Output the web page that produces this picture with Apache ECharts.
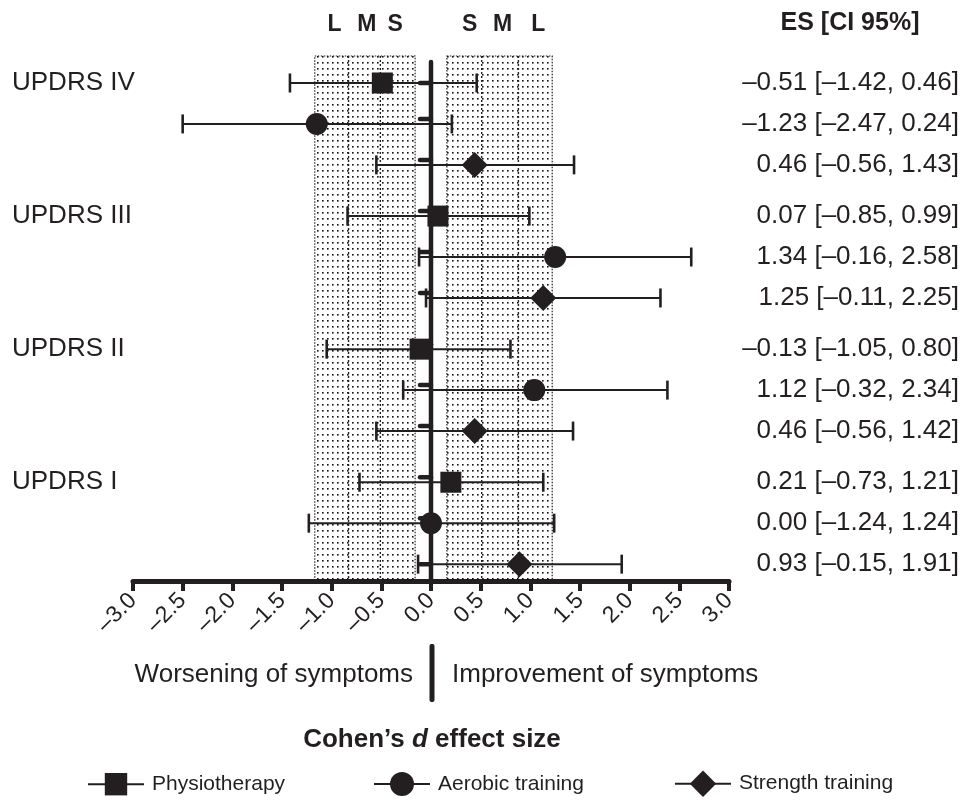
<!DOCTYPE html>
<html><head><meta charset="utf-8">
<script src="https://cdn.jsdelivr.net/npm/echarts@6/dist/echarts.min.js"></script>
<style>html,body{margin:0;padding:0;background:#fff}#c{width:962px;height:810px}</style>
</head><body><div id="c"></div>
<script>
// ---- data ----
const groups = ['UPDRS IV', 'UPDRS III', 'UPDRS II', 'UPDRS I'];
const interventions = ['Physiotherapy', 'Aerobic training', 'Strength training'];
// per group, in order UPDRS IV, III, II, I
const physioES  = [-0.49, 0.07, -0.11, 0.20];
const physioLo  = [-1.42, -0.84, -1.05, -0.72];
const physioHi  = [0.46, 0.99, 0.80, 1.13];
const aerobicES = [-1.15, 1.25, 1.04, 0.00];
const aerobicLo = [-2.50, -0.12, -0.28, -1.23];
const aerobicHi = [0.21, 2.62, 2.38, 1.24];
const strengthES = [0.44, 1.13, 0.44, 0.89];
const strengthLo = [-0.55, -0.05, -0.55, -0.13];
const strengthHi = [1.44, 2.31, 1.43, 1.92];
const esLabels = [
  '–0.51 [–1.42, 0.46]', '–1.23 [–2.47, 0.24]', '0.46 [–0.56, 1.43]',
  '0.07 [–0.85, 0.99]', '1.34 [–0.16, 2.58]', '1.25 [–0.11, 2.25]',
  '–0.13 [–1.05, 0.80]', '1.12 [–0.32, 2.34]', '0.46 [–0.56, 1.42]',
  '0.21 [–0.73, 1.21]', '0.00 [–1.24, 1.24]', '0.93 [–0.15, 1.91]'
];
const sizeBands = [[-1.17, -0.16], [0.16, 1.22]];
const sizeLines = [-0.83, -0.51, 0.51, 0.88];
const sizeLetters = ['L', 'M', 'S', 'S', 'M', 'L'];
const sizeLetterX = [-0.97, -0.645, -0.36, 0.39, 0.72, 1.08];
const xMin = -3, xMax = 3, xStep = 0.5;

// ---- layout / style ----
const FONT = "'Liberation Sans', Arial, Helvetica, sans-serif";
const INK = '#231f20';
const GROUP_STEP = 3.25;
const Y_MIN = -0.659, Y_MAX = 12.162;

const esSets = [physioES, aerobicES, strengthES];
const loSets = [physioLo, aerobicLo, strengthLo];
const hiSets = [physioHi, aerobicHi, strengthHi];
const rows = [];
groups.forEach((g, gi) => {
  for (let k = 0; k < 3; k++) {
    rows.push([loSets[k][gi], hiSets[k][gi], gi * GROUP_STEP + k, esSets[k][gi], rows.length, gi, k]);
  }
});

const pc = document.createElement('canvas');
pc.width = 5; pc.height = 6;
const pctx = pc.getContext('2d');
pctx.fillStyle = '#111';
pctx.fillRect(2, 2, 1.6, 1.6);
const dotPattern = { image: pc, repeat: 'repeat' };

const symbols = ['rect', 'circle', 'diamond'];
const symbolSizes = [21, 22, 26];
const markerSeries = interventions.map((name, k) => ({
  name, type: 'line', z: 10,
  data: esSets[k].map((v, gi) => [v, gi * GROUP_STEP + k]),
  symbol: symbols[k], symbolSize: symbolSizes[k], showSymbol: true,
  itemStyle: { color: INK, opacity: 1 },
  lineStyle: { opacity: 0, width: 0 },
  emphasis: { disabled: true }, silent: true
}));

const legendCommon = {
  selectedMode: false, orient: 'horizontal', itemWidth: 56,
  textStyle: { fontSize: 21, fontFamily: FONT, color: INK, padding: [0, 0, 0, 3] },
  lineStyle: { color: INK, width: 2, opacity: 1, type: 'solid' },
  itemStyle: { color: INK }
};
const legendLeft = [82, 368, 669];
const legendItemH = [28, 30, 33];

const chart = echarts.init(document.getElementById('c'), null, { renderer: 'canvas' });
chart.setOption({
  animation: false,
  backgroundColor: '#fff',
  textStyle: { fontFamily: FONT },
  grid: { left: 133, width: 596, top: 56, height: 525, containLabel: false },
  xAxis: {
    type: 'value', min: xMin, max: xMax, interval: xStep,
    axisLine: { onZero: false, lineStyle: { color: INK, width: 5 } },
    axisTick: { show: true, length: 10, lineStyle: { color: INK, width: 4 } },
    splitLine: { show: false },
    axisLabel: {
      rotate: 45, margin: 16, fontSize: 23, color: INK, fontFamily: FONT,
      formatter: v => (v < 0 ? '–' : '') + Math.abs(v).toFixed(1)
    }
  },
  yAxis: { type: 'value', inverse: true, min: Y_MIN, max: Y_MAX, show: false },
  legend: interventions.map((name, k) => Object.assign({}, legendCommon, {
    data: [name], left: legendLeft[k], top: 787 - 5 - legendItemH[k] / 2, itemHeight: legendItemH[k]
  })),
  graphic: [
    { type: 'text', x: 850, y: 23, style: { text: 'ES [CI 95%]', font: `bold 25px ${FONT}`, fill: INK, align: 'center', verticalAlign: 'middle', textAlign: 'center', textVerticalAlign: 'middle' } },
    { type: 'text', x: 413, y: 675, style: { text: 'Worsening of symptoms', font: `26px ${FONT}`, fill: INK, align: 'right', verticalAlign: 'middle', textAlign: 'right', textVerticalAlign: 'middle' } },
    { type: 'rect', shape: { x: 429.5, y: 644, width: 5, height: 58, r: 2 }, style: { fill: INK } },
    { type: 'text', x: 452, y: 675, style: { text: 'Improvement of symptoms', font: `26px ${FONT}`, fill: INK, align: 'left', verticalAlign: 'middle', textAlign: 'left', textVerticalAlign: 'middle' } },
    { type: 'text', x: 432, y: 740, style: {
      text: '{b|Cohen’s }{bi|d}{b| effect size}', align: 'center', verticalAlign: 'middle', textAlign: 'center', textVerticalAlign: 'middle',
      rich: { b: { font: `bold 26px ${FONT}`, fill: INK, color: INK }, bi: { font: `italic bold 26px ${FONT}`, fill: INK, color: INK } }
    } }
  ],
  series: [
    { // effect-size bands
      type: 'custom', z: 1, silent: true, clip: false,
      data: sizeBands,
      renderItem(params, api) {
        const cs = params.coordSys;
        const x0 = api.coord([api.value(0), 0])[0], x1 = api.coord([api.value(1), 0])[0];
        return { type: 'rect', shape: { x: x0, y: cs.y, width: x1 - x0, height: cs.height },
          style: { fill: dotPattern, stroke: '#222', lineWidth: 1.2, lineDash: [1.5, 1.5] } };
      }
    },
    { // band dividers
      type: 'custom', z: 2, silent: true, clip: false,
      data: sizeLines.map(v => [v, 0]),
      renderItem(params, api) {
        const cs = params.coordSys;
        const x = api.coord([api.value(0), 0])[0];
        return { type: 'line', shape: { x1: x, y1: cs.y, x2: x, y2: cs.y + cs.height },
          style: { stroke: '#222', lineWidth: 1.4, lineDash: [2, 2] } };
      }
    },
    { // S M L letters
      type: 'custom', z: 2, silent: true, clip: false,
      data: sizeLetterX.map((v, i) => [v, 0, i]),
      renderItem(params, api) {
        const cs = params.coordSys;
        const x = api.coord([api.value(0), 0])[0];
        return { type: 'text', x, y: cs.y - 31,
          style: { text: sizeLetters[api.value(2)], font: `bold 23px ${FONT}`, fill: INK, align: 'center', verticalAlign: 'middle' } };
      }
    },
    { // error bars, stubs and row texts
      type: 'custom', z: 3, silent: true, clip: false,
      data: rows,
      renderItem(params, api) {
        const lo = api.value(0), hi = api.value(1), pos = api.value(2);
        const idx = api.value(4), gi = api.value(5), k = api.value(6);
        const a = api.coord([lo, pos]), b = api.coord([hi, pos]), z = api.coord([0, pos]);
        const y = a[1];
        const stubY = (idx === 0 || idx === rows.length - 1) ? y : y - 5;
        const ch = [
          { type: 'line', shape: { x1: a[0], y1: y, x2: b[0], y2: y }, style: { stroke: INK, lineWidth: 2 } },
          { type: 'line', shape: { x1: a[0], y1: y - 9.5, x2: a[0], y2: y + 9.5 }, style: { stroke: INK, lineWidth: 2.6 } },
          { type: 'line', shape: { x1: b[0], y1: y - 9.5, x2: b[0], y2: y + 9.5 }, style: { stroke: INK, lineWidth: 2.6 } },
          { type: 'line', shape: { x1: z[0] - 11, y1: stubY, x2: z[0], y2: stubY }, style: { stroke: INK, lineWidth: 4.5, lineCap: 'round' } },
          { type: 'text', x: api.getWidth() - 3, y, style: { text: esLabels[idx], font: `26px ${FONT}`, fill: INK, align: 'right', verticalAlign: 'middle' } }
        ];
        if (k === 0) ch.push({ type: 'text', x: 12, y, style: { text: groups[gi], font: `26px ${FONT}`, fill: INK, align: 'left', verticalAlign: 'middle' } });
        return { type: 'group', children: ch };
      }
    },
    { // zero line
      type: 'custom', z: 4, silent: true, clip: false,
      data: [[0, 0]],
      renderItem(params, api) {
        const cs = params.coordSys;
        const x = api.coord([api.value(0), 0])[0];
        return { type: 'line', shape: { x1: x, y1: cs.y + 6, x2: x, y2: cs.y + cs.height },
          style: { stroke: INK, lineWidth: 4.5, lineCap: 'round' } };
      }
    },
    ...markerSeries
  ]
});
</script></body></html>
